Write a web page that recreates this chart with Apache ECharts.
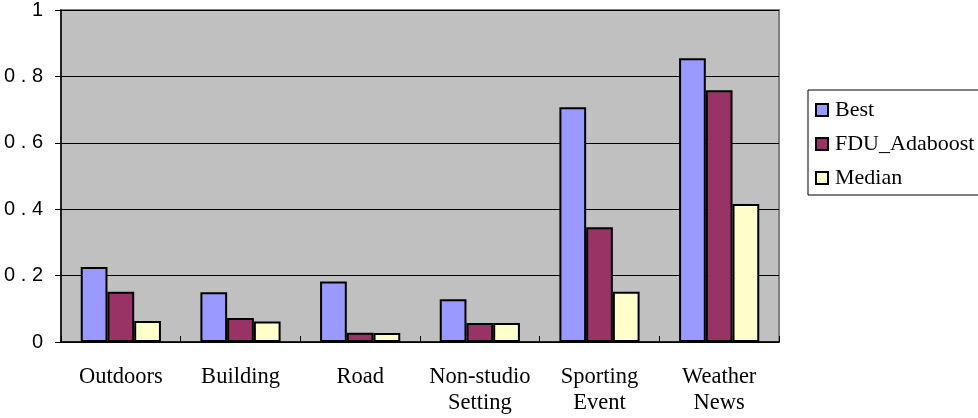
<!DOCTYPE html>
<html>
<head>
<meta charset="utf-8">
<script src="https://cdn.jsdelivr.net/npm/echarts@6/dist/echarts.min.js"></script>
<style>html,body{margin:0;padding:0;background:#fff;}#c{width:978px;height:418px;}</style>
</head>
<body>
<div id="c"></div>
<script>
var categories = ['Outdoors', 'Building', 'Road', 'Non-studio\nSetting', 'Sporting\nEvent', 'Weather\nNews'];
var best = [0.226, 0.150, 0.182, 0.129, 0.707, 0.855];
var fduAdaboost = [0.151, 0.072, 0.028, 0.057, 0.346, 0.758];
var median = [0.063, 0.062, 0.027, 0.057, 0.151, 0.416];
var yTicks = [0, 0.2, 0.4, 0.6, 0.8, 1];

var chart = echarts.init(document.getElementById('c'));
function mk(name, data, color) {
  return {
    name: name, type: 'bar', data: data, barGap: '0%', barCategoryGap: '33%',
    itemStyle: { color: color, borderColor: '#000', borderWidth: 2 }
  };
}
chart.setOption({
  animation: false,
  textStyle: { fontFamily: 'Liberation Serif', color: '#000' },
  grid: { left: 61, top: 10, width: 718, height: 332, containLabel: false, outerBoundsMode: 'none', show: true, backgroundColor: '#C0C0C0', borderColor: '#808080', borderWidth: 2 },
  legend: {
    orient: 'vertical', left: 808, top: 90, width: 175,
    padding: [9, 40, 6, 7], itemGap: 12,
    backgroundColor: '#fff', borderColor: '#000', borderWidth: 1,
    itemWidth: 12, itemHeight: 12, icon: 'rect',
    itemStyle: { borderColor: '#000', borderWidth: 2 },
    textStyle: { fontFamily: 'Liberation Serif', fontSize: 22, color: '#000', padding: [0, 0, 0, 2] },
    data: ['Best', 'FDU_Adaboost', 'Median']
  },
  xAxis: {
    type: 'category', data: categories,
    axisLine: { lineStyle: { color: '#000', width: 1.5 } },
    axisTick: { show: true, inside: true, length: 6, lineStyle: { color: '#000' } },
    axisLabel: { interval: 0, fontFamily: 'Liberation Serif', fontSize: 22.5, color: '#000', margin: 22, lineHeight: 26 }
  },
  yAxis: {
    type: 'value', min: 0, max: 1, interval: 0.2,
    axisLine: { show: true, lineStyle: { color: '#000', width: 1.5 } },
    axisTick: { show: true, length: 6, lineStyle: { color: '#000' } },
    splitLine: { lineStyle: { color: '#000', width: 1 } },
    axisLabel: {
      fontFamily: 'Liberation Sans', fontSize: 20, color: '#000', margin: 18,
      formatter: function (v) { return yTicks.indexOf(v) >= 0 ? String(v).split('').join(' ') : ''; }
    }
  },
  series: [
    mk('Best', best, '#9999FF'),
    mk('FDU_Adaboost', fduAdaboost, '#993366'),
    mk('Median', median, '#FFFFCC')
  ]
});
</script>
</body>
</html>
